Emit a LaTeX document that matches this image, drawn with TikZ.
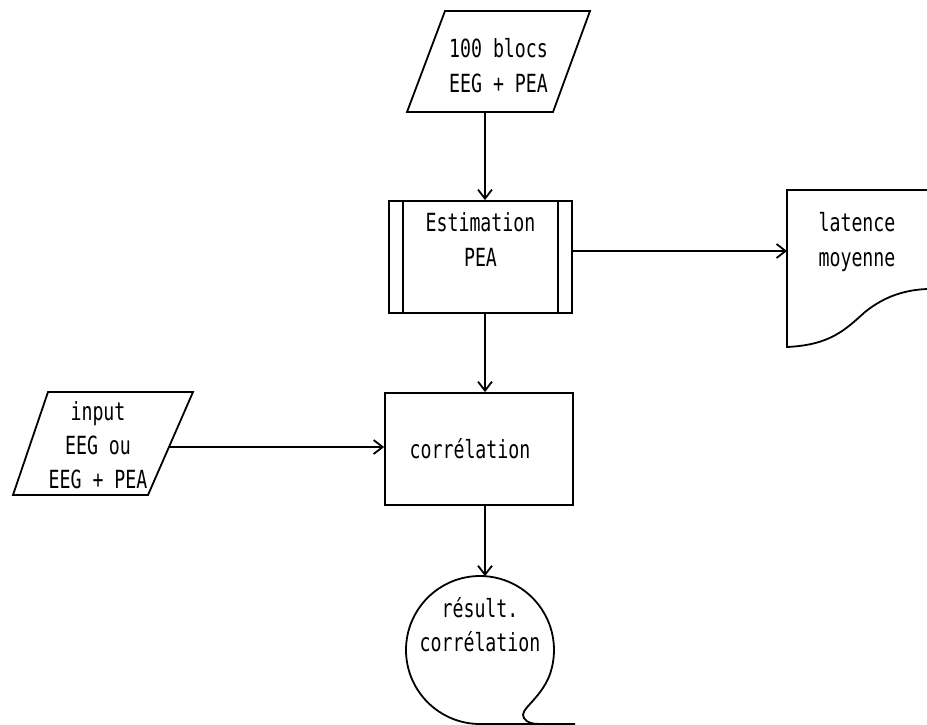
\documentclass[tikz,border=0pt]{standalone}
\usepackage{fontspec}
\newfontfamily\plotfont[FakeStretch=0.73]{DejaVu Sans Mono}
\usetikzlibrary{arrows.meta,calc}
\begin{document}
\begin{tikzpicture}[x=1pt,y=-1pt,line width=1.8pt,
  lbl/.style={font=\plotfont\fontsize{25}{35}\selectfont,align=center,inner sep=0pt},
  arr/.style={-{Straight Barb[length=9pt,width=14pt]}}]
\useasboundingbox (0,0) rectangle (927,725);
\coordinate (ax) at (485,0);
% top input parallelogram
\draw (445,11) -- (590,11) -- (553,112) -- (407,112) -- cycle;
\node[lbl] (srcT) at (498.5,66) {100 blocs\\EEG + PEA};
\coordinate (srcB) at (485,112);
% predefined process
\node[draw,lbl,minimum width=183pt,minimum height=112pt] (est) at (480.5,257) {Estimation\\PEA\\\mbox{}};
\draw ($(est.north west)+(15,0)$) -- ($(est.south west)+(15,0)$);
\draw ($(est.north east)+(-15,0)$) -- ($(est.south east)+(-15,0)$);
% document
\draw (927,190) -- (787,190) -- (787,347) .. controls (830,345) and (845,330) .. (865,312) .. controls (885,296) and (905,290) .. (927,289);
\node[lbl] (docT) at (857,242) {latence\\moyenne};
\coordinate (docW) at (787,251);
% correlation
\node[draw,lbl,minimum width=188pt,minimum height=112pt] (corr) at (479,449) {corrélation\kern18pt};
% left input parallelogram
\draw (48,392) -- (193,392) -- (148,495) -- (13,495) -- cycle;
\node[lbl,font=\plotfont\fontsize{25}{34}\selectfont] (inT) at (98,445) {input\\EEG ou\\EEG + PEA};
\coordinate (inR) at (169,447);
% tape
\draw (575,724) -- (480,724) arc[start angle=90,end angle=380,radius=74]
  .. controls (540,700) and (518,710) .. (524,718) .. controls (527,723) and (533,724) .. (540,724);
\node[lbl,font=\plotfont\fontsize{25}{34}\selectfont] (resT) at (480,624.5) {résult.\\corrélation};
\coordinate (resTop) at (485,576.2);
% connectors
\draw[arr] (srcB) -- (srcB |- est.north);
\draw[arr] ([yshift=6pt]est.east) -- (docW);
\draw[arr] (est.south -| ax) -- (corr.north -| ax);
\draw[arr] (inR) -- (inR -| corr.west);
\draw[arr] (corr.south -| ax) -- (resTop);
\end{tikzpicture}
\end{document}
